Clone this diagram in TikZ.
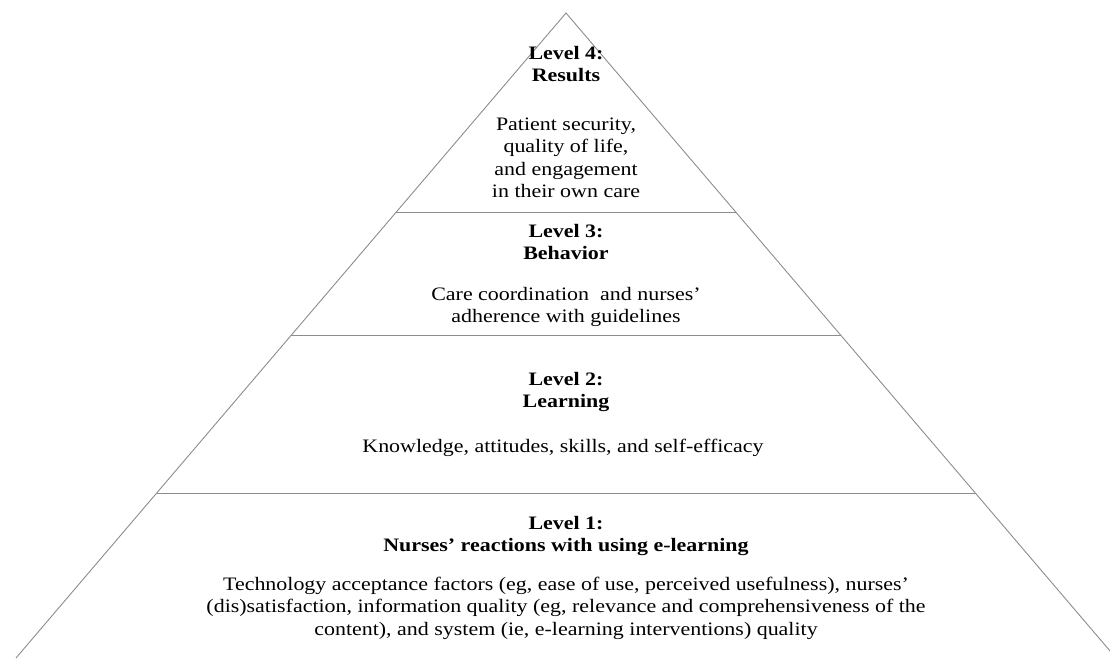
\documentclass[tikz,border=0pt]{standalone}
\usepackage{fontspec}
\setmainfont{Liberation Serif}[FakeStretch=1.155]
\usetikzlibrary{calc}
\tikzset{
  edge/.style={draw=black!45, line width=0.9pt},
  head/.style={align=center, font=\fontsize{19}{21.5}\selectfont\bfseries, inner sep=0pt},
  body/.style={align=center, font=\fontsize{19}{22.5}\selectfont, inner sep=0pt}
}

\begin{document}
\begin{tikzpicture}[x=1pt, y=-1pt]
  \clip (0,0) rectangle (1110,658);
  \coordinate (apex) at (566,13);
  \coordinate (bl) at (16,658);
  \coordinate (br) at (1116,658);
  \draw[edge] (bl) -- (apex) -- (br);
  % tier dividers, cut off the two sides
  \foreach \t/\n in {0.3085/a, 0.4995/b, 0.7442/c}{
    \coordinate (l\n) at ($(apex)!\t!(bl)$);
    \coordinate (r\n) at ($(apex)!\t!(br)$);
    \draw[edge] (l\n) -- (r\n);
  }

  \node[head] (h4) at (566,64) {Level 4:\\Results};
  \node[body] (b4) at (566,158) {Patient security,\\quality of life,\\and engagement\\in their own care};

  \node[head] (h3) at (566,242) {Level 3:\\Behavior};
  \node[body] (b3) at (566,307) {Care coordination\ \ and nurses'\\adherence with guidelines};

  \node[head] (h2) at (566,392) {Level 2:\\Learning};
  \node[body] (b2) at (563,448) {Knowledge, attitudes, skills, and self-efficacy};

  \node[head] (h1) at (566,536) {Level 1:\\Nurses' reactions with using e-learning};
  \node[body] (b1) at (566,608) {Technology acceptance factors (eg, ease of use, perceived usefulness), nurses'\\(dis)satisfaction, information quality (eg, relevance and comprehensiveness of the\\content), and system (ie, e-learning interventions) quality};
\end{tikzpicture}
\end{document}
